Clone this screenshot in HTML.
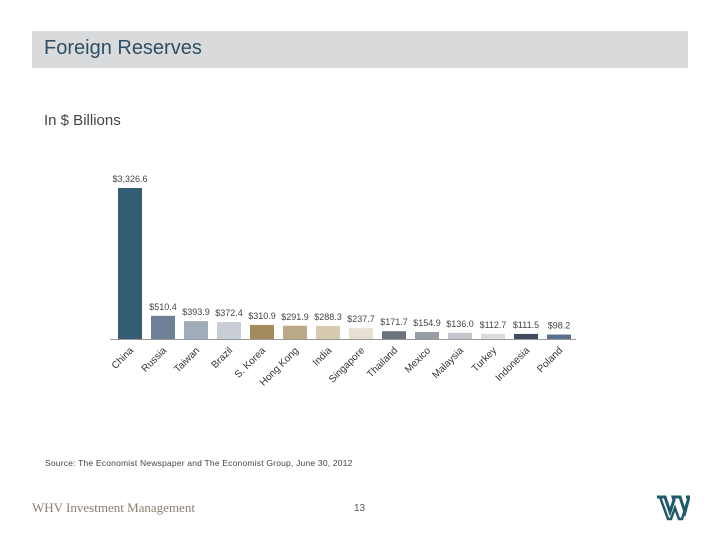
<!DOCTYPE html>
<html><head><meta charset="utf-8"><style>
body{margin:0;width:720px;height:540px;background:#fff;font-family:"Liberation Sans",sans-serif;position:relative;overflow:hidden}
.hdr{position:absolute;left:32px;top:31px;width:656px;height:37px;background:#d9dadb}
.ttl{position:absolute;left:44px;top:37px;font-size:20px;color:#2f4f66}
.sub{position:absolute;left:44px;top:112px;font-size:15px;color:#444}
.src{position:absolute;left:45px;top:458px;font-size:8.5px;color:#444;letter-spacing:0.2px}
.brand{position:absolute;left:32px;top:500px;font-family:"Liberation Serif",serif;font-size:13px;color:#8a8070}
.pg{position:absolute;left:354px;top:503px;font-size:10px;color:#555}
</style></head><body>
<div class="hdr"></div>
<div class="ttl">Foreign Reserves</div>
<div class="sub">In $ Billions</div>
<svg id="chart" width="720" height="540" style="position:absolute;left:0;top:0"></svg>
<div class="src">Source: The Economist Newspaper and The Economist Group, June 30, 2012</div>
<div class="brand">WHV Investment Management</div>
<div class="pg">13</div>
<svg style="position:absolute;left:656px;top:495px" width="34" height="26" viewBox="0 0 34 26">
<path d="M1 2h8l5 15 4-12-1-3h7l5 15 4-15h-3" fill="none" stroke="#1f5a6a" stroke-width="3"/>
<path d="M4 2l8 22h3l4-11 4 11h3l7-22" fill="none" stroke="#1f5a6a" stroke-width="2.5"/>
</svg>
<script>
const categories=["China","Russia","Taiwan","Brazil","S. Korea","Hong Kong","India","Singapore","Thailand","Mexico","Malaysia","Turkey","Indonesia","Poland"];
const values=[3326.6,510.4,393.9,372.4,310.9,291.9,288.3,237.7,171.7,154.9,136.0,112.7,111.5,98.2];
const labels=["$3,326.6","$510.4","$393.9","$372.4","$310.9","$291.9","$288.3","$237.7","$171.7","$154.9","$136.0","$112.7","$111.5","$98.2"];
const colors=["#355e76","#6e8098","#a1acbb","#c9ced6","#a08a5e","#baa984","#d6cab0","#e6e0d2","#6a7280","#969ea8","#c2c6cc","#dcdcdc","#3f4a5e","#5a6e90"];
const svg=document.getElementById('chart');
const NS='http://www.w3.org/2000/svg';
const base=339,top0=188,maxV=3326.6;
const y=v=>base-(v/maxV)*(base-top0);
const x=i=>118+i*33;
const bw=24;
function mk(t,a){const e=document.createElementNS(NS,t);for(const k in a)e.setAttribute(k,a[k]);svg.appendChild(e);return e;}
values.forEach((v,i)=>{
 const r=mk('rect',{x:x(i),y:y(v),width:bw,height:base-y(v),fill:colors[i]});
 
 
 const t=mk('text',{x:x(i)+bw/2,y:y(v)-6,'text-anchor':'middle','font-size':'9','fill':'#444','font-family':'Liberation Sans, sans-serif'});
 t.textContent=labels[i];
 
 
 const c=mk('text',{x:x(i)+bw/2+4,y:base+12,'text-anchor':'end','font-size':'10','fill':'#333','font-family':'Liberation Sans, sans-serif',transform:`rotate(-45 ${x(i)+bw/2+4} ${base+12})`});
 c.textContent=categories[i];
 
 
});
const ax=mk('line',{x1:110,x2:576,y1:base+0.5,y2:base+0.5,stroke:'#999','stroke-width':1});


</script>
</body></html>
